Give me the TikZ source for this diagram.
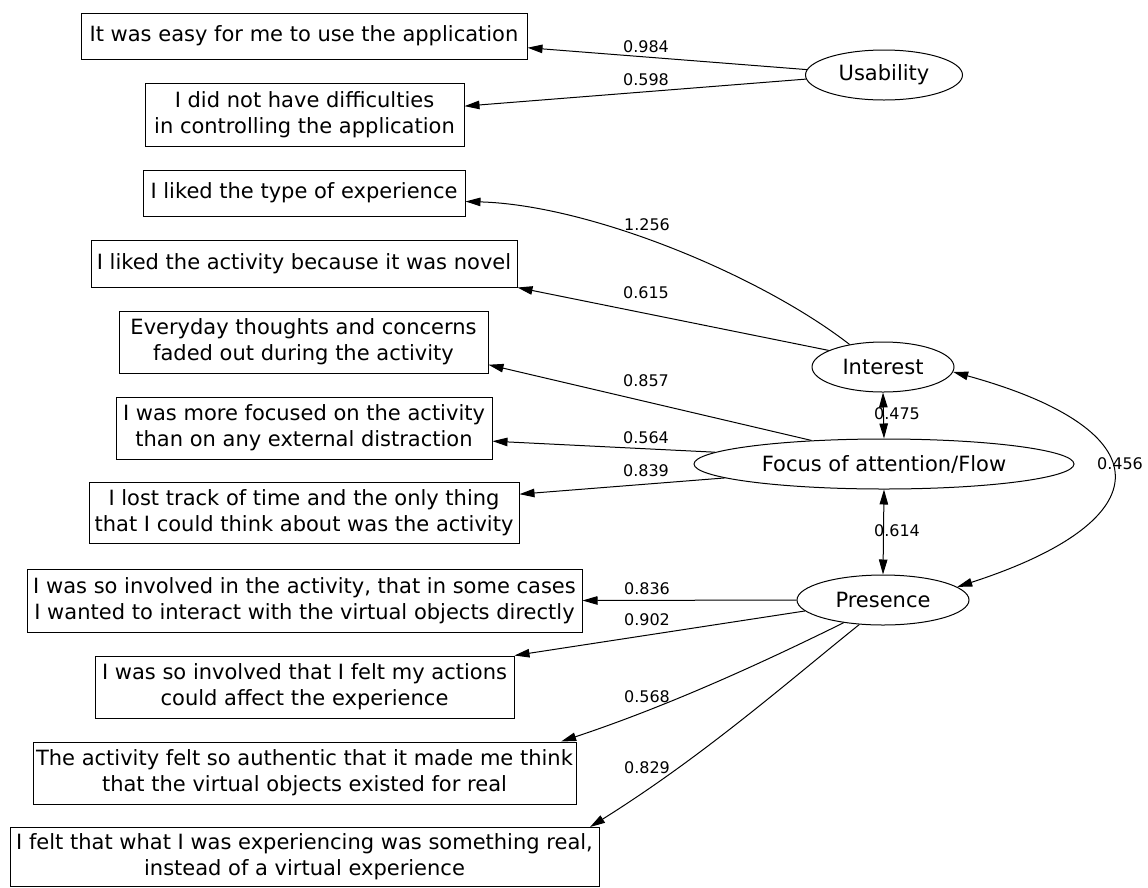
\documentclass[tikz,border=0pt]{standalone}
\usepackage{fontspec}
\setmainfont{DejaVu Sans}
\usetikzlibrary{arrows.meta,shapes.geometric}
\begin{document}
\begin{tikzpicture}[x=1pt,y=-1pt,
  every node/.style={font=\fontsize{21}{26}\selectfont},
  box/.style={draw, rectangle, line width=1pt, inner sep=0pt, align=center},
  lat/.style={draw, ellipse, line width=1pt, inner sep=0pt, minimum height=50pt},
  lab/.style={font=\fontsize{16}{18}\selectfont, inner sep=0pt},
  arr/.style={line width=1pt, -{Triangle[length=15pt,width=8.5pt]}},
  dbl/.style={line width=1pt, {Triangle[length=15pt,width=8.5pt]}-{Triangle[length=15pt,width=8.5pt]}}]
\fill[white] (0,0) rectangle (1148,887);
\useasboundingbox (0,0) rectangle (1148,887);

% observed variables
\node[box, minimum width=446pt, minimum height=46pt] (b1) at (304,36) {It was easy for me to use the application};
\node[box, minimum width=319pt, minimum height=63pt] (b2) at (304.5,114.5) {I did not have difficulties\\in controlling the application};
\node[box, minimum width=322pt, minimum height=46pt] (b3) at (304,193) {I liked the type of experience};
\node[box, minimum width=426pt, minimum height=47pt] (b4) at (304,263.5) {I liked the activity because it was novel};
\node[box, minimum width=369pt, minimum height=62pt] (b5) at (303.5,342) {Everyday thoughts and concerns\\faded out during the activity};
\node[box, minimum width=376pt, minimum height=62pt] (b6) at (304,428) {I was more focused on the activity\\than on any external distraction};
\node[box, minimum width=430pt, minimum height=61pt] (b7) at (304,513) {I lost track of time and the only thing\\that I could think about was the activity};
\node[box, minimum width=555pt, minimum height=63pt] (b8) at (304.5,600.5) {I was so involved in the activity, that in some cases\\I wanted to interact with the virtual objects directly};
\node[box, minimum width=419pt, minimum height=62pt] (b9) at (304.5,687) {I was so involved that I felt my actions\\could affect the experience};
\node[box, minimum width=543pt, minimum height=62pt] (b10) at (304.5,773) {The activity felt so authentic that it made me think\\that the virtual objects existed for real};
\node[box, minimum width=589pt, minimum height=59pt] (b11) at (304.5,857) {I felt that what I was experiencing was something real,\\instead of a virtual experience};

% latent variables
\node[lat, minimum width=157pt] (u) at (884,75) {Usability};
\node[lat, minimum width=142pt] (i) at (883,367) {Interest};
\node[lat, minimum width=380pt] (f) at (884,464) {Focus of attention/Flow};
\node[lat, minimum width=172pt] (p) at (883,600) {Presence};

% loadings
\draw[arr] (u.176.3) -- (b1.-3.8);
\draw[arr] (u.183.7) -- (b2.3.8);
\draw[arr] (i.146) .. controls (760,275) and (590,205) .. (b3.-3.2);
\draw[arr] (i.163) -- (b4.south east);
\draw[arr] (f.162.5) -- (b5.-7.7);
\draw[arr] (f.176.4) -- (b6.-4);
\draw[arr] (f.185) -- (b7.5.3);
\draw[arr] (p.180) -- (b8.0);
\draw[arr] (p.188.3) -- (b9.north east);
\draw[arr] (p.210) .. controls (762,663) and (668,706) .. (b10.7);
\draw[arr] (p.226) .. controls (790,680) and (705,755) .. (b11.6.4);

% covariances
\draw[dbl] (i.south) -- (f.north);
\draw[dbl] (f.south) -- (p.north);
\draw[dbl] (i.-4) .. controls (1164,430) and (1164,520) .. (p.10);

% labels
\node[lab] (l1) at (646,47) {0.984};
\node[lab] (l2) at (646,80) {0.598};
\node[lab] (l3) at (647,225) {1.256};
\node[lab] (l4) at (646,293) {0.615};
\node[lab] (l5) at (646,381) {0.857};
\node[lab] (l6) at (646,437.5) {0.564};
\node[lab] (l7) at (646,471) {0.839};
\node[lab] (l8) at (897,414) {0.475};
\node[lab] (l9) at (897,531) {0.614};
\node[lab] (l10) at (1120,464) {0.456};
\node[lab] (l11) at (647,589) {0.836};
\node[lab] (l12) at (647,620) {0.902};
\node[lab] (l13) at (647,697) {0.568};
\node[lab] (l14) at (647,768) {0.829};
\end{tikzpicture}
\end{document}
